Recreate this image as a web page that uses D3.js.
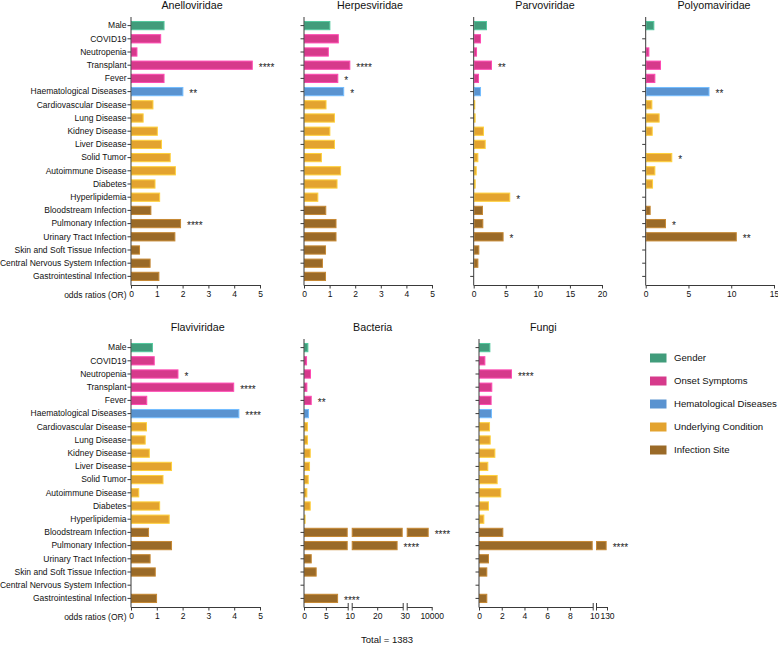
<!DOCTYPE html>
<html>
<head>
<meta charset="utf-8">
<script src="https://cdn.jsdelivr.net/npm/d3@7"></script>
<style>
  html, body { margin: 0; padding: 0; background: #fff; }
  svg { display: block; font-family: "Liberation Sans", Arial, Helvetica, sans-serif; }
</style>
</head>
<body>
<svg id="chart" width="778" height="648"></svg>
<script>
// ---------------- DATA ----------------
const categories = [
  "Male", "COVID19", "Neutropenia", "Transplant", "Fever",
  "Haematological Diseases", "Cardiovascular Disease", "Lung Disease", "Kidney Disease",
  "Liver Disease", "Solid Tumor", "Autoimmune Disease", "Diabetes", "Hyperlipidemia",
  "Bloodstream Infection", "Pulmonary Infection", "Urinary Tract Infection",
  "Skin and Soft Tissue Infection", "Central Nervous System Infection", "Gastrointestinal Infection"
];
const groupNames = ["Gender", "Onset Symptoms", "Hematological Diseases", "Underlying Condition", "Infection Site"];
const groupColors = ["#419c7b", "#d63a8b", "#5a93d0", "#e3a32f", "#9a6a28"];
const categoryGroup = [0, 1, 1, 1, 1, 2, 3, 3, 3, 3, 3, 3, 3, 3, 4, 4, 4, 4, 4, 4];

const anelloviridae  = [1.30, 1.17, 0.25, 4.72, 1.30, 2.03, 0.87, 0.49, 1.04, 1.20, 1.54, 1.74, 0.95, 1.13, 0.79, 1.94, 1.72, 0.35, 0.76, 1.10];
const anelloStars    = ["", "", "", "****", "", "**", "", "", "", "", "", "", "", "", "", "****", "", "", "", ""];
const herpesviridae  = [1.03, 1.36, 0.97, 1.81, 1.34, 1.57, 0.88, 1.21, 1.03, 1.21, 0.70, 1.45, 1.31, 0.56, 0.87, 1.27, 1.27, 0.86, 0.74, 0.86];
const herpesStars    = ["", "", "", "****", "*", "*", "", "", "", "", "", "", "", "", "", "", "", "", "", ""];
const parvoviridae   = [2.07, 1.14, 0.52, 2.85, 0.83, 1.14, 0.20, 0.30, 1.60, 1.87, 0.73, 0.47, 0.31, 5.70, 1.45, 1.50, 4.66, 0.88, 0.73, null];
const parvoStars     = ["", "", "", "**", "", "", "", "", "", "", "", "", "", "*", "", "", "*", "", "", ""];
const polyomaviridae = [1.01, null, 0.43, 1.79, 1.13, 7.46, 0.78, 1.63, 0.82, null, 3.11, 1.13, 0.86, null, 0.58, 2.37, 10.65, null, null, null];
const polyomaStars   = ["", "", "", "", "", "**", "", "", "", "", "*", "", "", "", "", "*", "**", "", "", ""];
const flaviviridae   = [0.85, 0.92, 1.84, 4.00, 0.63, 4.20, 0.62, 0.57, 0.73, 1.59, 1.26, 0.32, 1.13, 1.50, 0.70, 1.59, 0.76, 0.96, null, 1.01];
const flaviStars     = ["", "", "*", "****", "", "****", "", "", "", "", "", "", "", "", "", "", "", "", "", ""];
const bacteria       = [1.00, 0.70, 1.60, 0.77, 1.77, 1.15, 0.92, 0.92, 1.54, 1.38, 1.08, 0.77, 1.54, 0.15, 8800, 28, 1.77, 2.90, null, 7.8];
const bacteriaStars  = ["", "", "", "", "**", "", "", "", "", "", "", "", "", "", "****", "****", "", "", "", "****"];
const fungi          = [1.00, 0.56, 2.90, 1.17, 1.11, 1.14, 0.97, 1.03, 1.44, 0.82, 1.64, 1.96, 0.88, 0.47, 2.14, 126, 0.88, 0.73, null, 0.73];
const fungiStars     = ["", "", "****", "", "", "", "", "", "", "", "", "", "", "", "", "****", "", "", "", ""];

const xTicks5  = [0, 1, 2, 3, 4, 5];
const xTicks20 = [0, 5, 10, 15, 20];
const xTicks15 = [0, 5, 10, 15];
const bacteriaTicks = [[0, 5, 10], [10, 20, 30], [30, 10000]];
const fungiTicks = [[0, 2, 4, 6, 8, 10], [10, 130]];
const totalLabel = "Total = 1383";
const axisTitle = "odds ratios (OR)";

// ---------------- LAYOUT ----------------
const rows = [
  { yTop: 17, axisY: 285, band: [19, 283], titleY: 9 },
  { yTop: 339, axisY: 607, band: [341, 605], titleY: 331 }
];

const panels = [
  { name: "Anelloviridae",  values: anelloviridae,  stars: anelloStars,   row: 0, x0: 131,   titleX: 192, labels: true,
    segs: [{ domain: [0, 5], width: 129, ticks: xTicks5 }] },
  { name: "Herpesviridae",  values: herpesviridae,  stars: herpesStars,   row: 0, x0: 304,   titleX: 370,
    segs: [{ domain: [0, 5], width: 128, ticks: xTicks5 }] },
  { name: "Parvoviridae",   values: parvoviridae,   stars: parvoStars,    row: 0, x0: 473.7, titleX: 545,
    segs: [{ domain: [0, 20], width: 128.3, ticks: xTicks20 }] },
  { name: "Polyomaviridae", values: polyomaviridae, stars: polyomaStars,  row: 0, x0: 645.7, titleX: 714,
    segs: [{ domain: [0, 15], width: 128.3, ticks: xTicks15 }] },
  { name: "Flaviviridae",   values: flaviviridae,   stars: flaviStars,    row: 1, x0: 131,   titleX: 197.7, labels: true,
    segs: [{ domain: [0, 5], width: 129, ticks: xTicks5 }] },
  { name: "Bacteria",       values: bacteria,       stars: bacteriaStars, row: 1, x0: 304,   titleX: 372.7, gap: 4,
    segs: [{ domain: [0, 10], width: 43.7, ticks: bacteriaTicks[0] },
           { domain: [10, 30], width: 51, ticks: bacteriaTicks[1] },
           { domain: [30, 10000], width: 25, ticks: bacteriaTicks[2] }] },
  { name: "Fungi",          values: fungi,          stars: fungiStars,    row: 1, x0: 479,   titleX: 543.3, gap: 3.3,
    segs: [{ domain: [0, 10], width: 113.7, ticks: fungiTicks[0] },
           { domain: [10, 130], width: 11, ticks: fungiTicks[1] }] }
];

const svg = d3.select("#chart");
const axisColor = "#3a3a3a";
const fs = 8.5;

panels.forEach(p => {
  const r = rows[p.row];
  const g = svg.append("g");
  const y = d3.scaleBand().domain(categories).range(r.band).paddingInner(0.3).paddingOuter(0.15);
  const yc = c => y(c) + y.bandwidth() / 2;

  // build segment scales
  let cur = p.x0;
  p.segs.forEach((s, i) => {
    s.scale = d3.scaleLinear().domain(s.domain).range([cur, cur + s.width]);
    cur += s.width + (p.gap || 0);
  });

  // title
  g.append("text").attr("x", p.titleX).attr("y", r.titleY)
    .attr("text-anchor", "middle").attr("font-size", 10.7).attr("fill", "#111").text(p.name);

  // bars
  categories.forEach((c, i) => {
    const v = p.values[i];
    if (v == null) return;
    const col = groupColors[categoryGroup[i]];
    let endX = p.x0;
    p.segs.forEach(s => {
      if (v > s.domain[0]) {
        const a = s.scale(s.domain[0]);
        const b = s.scale(Math.min(v, s.domain[1]));
        g.append("rect")
          .attr("x", a + 0.5).attr("y", y(c) + 0.5)
          .attr("width", Math.max(0.6, b - a - 1)).attr("height", y.bandwidth() - 1)
          .attr("fill", col)
          .attr("stroke", d3.color(col).brighter(0.7).formatHex())
          .attr("stroke-width", 1);
        endX = b;
      }
    });
    const st = p.stars[i];
    if (st) {
      g.append("text").attr("x", endX + 6).attr("y", yc(c) + 5.6)
        .attr("font-size", 10).attr("fill", "#222").text(st);
    }
  });

  // y axis
  const yAxis = d3.axisLeft(y).tickSize(3.5).tickSizeOuter(0)
    .tickFormat(p.labels ? (d => d) : () => "");
  const ya = g.append("g").attr("transform", `translate(${p.x0},0)`).call(yAxis);
  ya.select(".domain").remove();
  ya.selectAll(".tick line").attr("stroke", axisColor);
  ya.selectAll(".tick text").attr("font-size", fs).attr("fill", "#111")
    .attr("font-family", "Liberation Sans, Arial, sans-serif").attr("x", -4.5);
  g.append("line").attr("x1", p.x0).attr("x2", p.x0).attr("y1", r.yTop).attr("y2", r.axisY + 0.5)
    .attr("stroke", axisColor).attr("stroke-width", 1);

  // x axis (possibly broken)
  p.segs.forEach((s, i) => {
    const last = i === p.segs.length - 1;
    const xa = d3.axisBottom(s.scale).tickValues(s.ticks).tickSize(3.5).tickSizeOuter(0)
      .tickFormat(d => d3.format("d")(d));
    const ag = g.append("g").attr("transform", `translate(0,${r.axisY})`).call(xa);
    ag.select(".domain").attr("stroke", axisColor);
    ag.selectAll(".tick line").attr("stroke", axisColor);
    ag.selectAll(".tick text").attr("font-size", fs).attr("fill", "#111")
      .attr("font-family", "Liberation Sans, Arial, sans-serif").attr("y", 5.5);
    // handle break labels
    ag.selectAll(".tick").each(function(d, k) {
      const t = d3.select(this);
      const isFirst = k === 0, isLast = k === s.ticks.length - 1;
      if (i > 0 && isFirst) {
        t.select("text").remove();
        t.select("line").attr("y1", -4).attr("y2", 3.5);
      }
      if (!last && isLast) {
        const next = p.segs[i + 1];
        const mid = (s.scale(s.domain[1]) + next.scale(next.domain[0])) / 2;
        t.select("text").attr("x", mid - s.scale(d));
        t.select("line").attr("y1", -4).attr("y2", 3.5);
      }
    });
  });

  if (p.labels) {
    g.append("text").attr("x", 126.5).attr("y", r.axisY + 12.5)
      .attr("text-anchor", "end").attr("font-size", fs).attr("fill", "#111").text(axisTitle);
  }
});

// legend
const legend = svg.append("g");
groupNames.forEach((n, i) => {
  const yy = 358 + i * 23;
  legend.append("rect").attr("x", 650).attr("y", yy - 4.5).attr("width", 16.5).attr("height", 9)
    .attr("fill", groupColors[i]);
  legend.append("text").attr("x", 674).attr("y", yy + 3.4)
    .attr("font-size", 9.6).attr("fill", "#111").text(n);
});

svg.append("text").attr("x", 387).attr("y", 643).attr("text-anchor", "middle")
  .attr("font-size", 9.5).attr("fill", "#111").text(totalLabel);
</script>
</body>
</html>
